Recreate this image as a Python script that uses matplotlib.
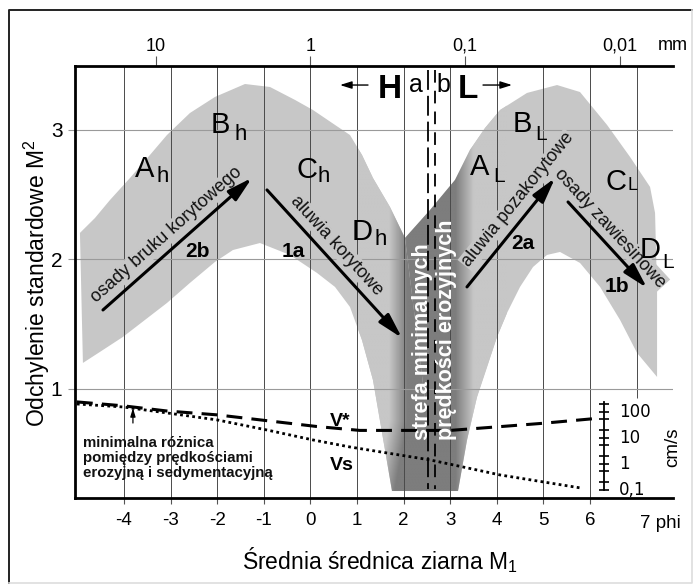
import numpy as np
import matplotlib
matplotlib.use('Agg')
import matplotlib.pyplot as plt
import matplotlib.transforms as mtransforms
from matplotlib.patches import Polygon
from matplotlib.lines import Line2D
from matplotlib.ticker import NullLocator

plt.rcParams['font.family'] = ['Liberation Sans', 'DejaVu Sans']
plt.rcParams['mathtext.fontset'] = 'custom'
plt.rcParams['mathtext.rm'] = 'Liberation Sans'
plt.rcParams['mathtext.it'] = 'Liberation Sans:italic'
plt.rcParams['mathtext.bf'] = 'Liberation Sans:bold'

# --- data -------------------------------------------------------------
phi_ticks = [-4, -3, -2, -1, 0, 1, 2, 3, 4, 5, 6]
phi_grid = [-4, -3, -2, -1, 0, 1, 2, 3, 4, 5, 6]
m2_ticks = [1, 2, 3]
mm_sizes = [10, 1, 0.1, 0.01]
mm_labels = ['10', '1', '0,1', '0,01']

# envelope of the coarse (H) field
h_phi = [-4.944, -4.622, -4.300, -3.871, -3.442, -3.077, -2.584, -2.047, -1.403, -0.867,
         -0.330, 0.056, 0.528, 0.850, 1.107, 1.343, 1.708, 2.030, 2.459, 2.459,
         1.751, 1.601, 1.343, 1.107, 0.850, 0.528, 0.142, -0.438, -1.082, -1.661,
         -2.047, -2.584, -3.077, -3.549, -4.021, -4.515, -4.880]
h_m2 = [2.205, 2.320, 2.459, 2.629, 2.807, 2.961, 3.131, 3.255, 3.355, 3.332,
        3.232, 3.154, 3.039, 2.961, 2.807, 2.629, 2.405, 2.166, 0.915, 0.212,
        0.212, 0.529, 1.069, 1.378, 1.633, 1.788, 1.896, 2.035, 2.127, 2.073,
        1.981, 1.819, 1.664, 1.533, 1.402, 1.286, 1.201]

# envelope of the fine (L) field
l_phi = [2.030, 2.567, 3.103, 3.425, 3.747, 4.069, 4.648, 5.292, 5.785, 6.365,
         6.858, 7.288, 7.395, 7.438, 7.438, 7.009, 6.644, 6.215, 5.785, 5.356,
         5.077, 4.777, 4.498, 4.219, 4.004, 3.790, 3.575, 3.361, 3.167, 2.459, 2.459]
l_m2 = [2.166, 2.382, 2.614, 2.846, 3.015, 3.154, 3.286, 3.347, 3.293, 3.039,
        2.792, 2.560, 2.359, 1.764, 1.093, 1.278, 1.533, 1.788, 1.973, 2.058,
        2.035, 1.942, 1.788, 1.587, 1.402, 1.170, 0.938, 0.606, 0.212, 0.212, 0.915]

# zone of minimal erosion velocities
zone_left, zone_right = 2.073, 3.103
zone_left_bottom = 1.80
split_a, split_b = 2.524, 2.674

# velocity curves
vstar_phi = [-5.01, -4.02, -3.08, -2.0, -0.93, 0.14, 1.06, 3.0, 3.92, 4.99, 6.06]
vstar_m2 = [0.90, 0.87, 0.83, 0.80, 0.755, 0.71, 0.68, 0.68, 0.705, 0.735, 0.77]
vs_phi = [-5.01, -4.02, -3.08, -2.0, -0.93, 0.06, 0.85, 2.57, 4.07, 5.79]
vs_m2 = [0.884, 0.861, 0.815, 0.761, 0.683, 0.606, 0.552, 0.452, 0.336, 0.236]
vel_ticks = [0.1, 0.2, 0.5, 1, 2, 5, 10, 20, 50, 100, 200]
vel_labels = {100: '100', 10: '10', 1: '1', 0.1: '0,1'}

# trend arrows: (tail, tip, caption, caption centre, number, number position)
trends = [
    ((-4.45, 1.61), (-1.253, 2.63), 'osady bruku korytowego', (-3.077, 2.189), '2b', (-2.412, 2.058)),
    ((-0.931, 2.537), (1.966, 1.394), 'aluwia korytowe', (0.571, 2.104), '1a', (-0.373, 2.058)),
    ((3.36, 1.788), (5.249, 2.629), 'aluwia pozakorytowe', (4.455, 2.459), '2a', (4.562, 2.127)),
    ((5.528, 2.444), (7.223, 1.78), 'osady zawiesinowe', (6.43, 2.243), '1b', (6.58, 1.788)),
]

# sub-field letters: (letter, x, baseline, index, x, baseline, index size)
fields = [
    ('A', -3.764, 2.637, 'h', -3.292, 2.598, 16),
    ('B', -2.133, 2.977, 'h', -1.618, 2.923, 16),
    ('C', -0.288, 2.629, 'h', 0.163, 2.598, 16),
    ('D', 0.893, 2.151, 'h', 1.386, 2.112, 16),
    ('A', 3.425, 2.653, 'L', 3.918, 2.598, 15),
    ('B', 4.348, 2.985, 'L', 4.820, 2.923, 15),
    ('C', 6.322, 2.537, 'L', 6.794, 2.537, 13),
    ('D', 7.073, 2.012, 'L', 7.545, 1.934, 15),
]

LIGHT = 0.78
DARK = 0.49

fig = plt.figure(figsize=(6.96, 5.86), dpi=100)
ax = fig.add_axes([75 / 696, 1 - 498 / 586, 598 / 696, 432 / 586])
ax.set_xlim(-5.05, 7.78)
ax.set_ylim(0.158, 3.494)

# frame around the whole figure
fig.add_artist(Line2D([9 / 696, 9 / 696, 692 / 696], [1 - 583 / 586, 1 - 10 / 586, 1 - 10 / 586],
                      transform=fig.transFigure, color='#222222', lw=1.4))
fig.add_artist(Line2D([9 / 696, 692 / 696, 692 / 696], [1 - 583 / 586, 1 - 583 / 586, 1 - 10 / 586],
                      transform=fig.transFigure, color='#dddddd', lw=1.2))

# grey fields
grey = str(LIGHT)
lobes = []
for px, py in [(h_phi, h_m2), (l_phi, l_m2)]:
    p = Polygon(np.column_stack([px, py]), closed=True, fc=grey, ec='none', zorder=1)
    ax.add_patch(p)
    lobes.append(p)

# darker zone with soft edges, painted inside both fields
gx = np.linspace(1.0, 4.2, 500)
gy = np.linspace(0.15, 3.5, 400)
X, Y = np.meshgrid(gx, gy)
left_edge = np.interp(Y, [0.2, 0.75], [zone_left_bottom, zone_left])
ramp = 0.39
t = np.ones_like(X)
t = np.where(X < left_edge, np.clip(1 - (left_edge - X) / ramp, 0, 1), t)
t = np.where(X > zone_right, np.clip(1 - (X - zone_right) / ramp, 0, 1), t)
shade = LIGHT - t * (LIGHT - DARK)
for p in lobes:
    im = ax.imshow(shade, extent=(gx[0], gx[-1], gy[0], gy[-1]), origin='lower',
                   cmap='gray', vmin=0, vmax=1, aspect='auto', zorder=1.5,
                   interpolation='bilinear')
    im.set_clip_path(p)

# grid
ax.vlines(phi_grid, 0.158, 3.494, color='#4a4a4a', lw=0.7, zorder=2)
ax.vlines([7], 0.93, 3.494, color='#4a4a4a', lw=0.7, zorder=2)
ax.hlines(m2_ticks, -5.05, 7.78, color='#9a9a9a', lw=0.8, zorder=2)

# border between H and L
ax.plot([split_a, split_a], [3.463, 0.23], color='k', lw=1.3,
        linestyle=(0, (11, 3.3)), zorder=3)
ax.plot([split_b, split_b], [3.463, 0.23], color='k', lw=1.3,
        linestyle=(0, (7, 4.5)), zorder=3)

# axes styling
for s in ['left', 'bottom', 'top']:
    ax.spines[s].set_linewidth(2.0)
ax.spines['right'].set_visible(False)
ax.set_xticks(phi_ticks)
ax.set_xticklabels([str(v) for v in phi_ticks])
ax.set_yticks(m2_ticks)
ax.set_yticklabels([str(v) for v in m2_ticks])
ax.tick_params(axis='x', direction='out', length=4, width=0.8, color='#555555',
               labelsize=13.5, pad=6)
ax.tick_params(axis='y', direction='out', length=5, width=0.8, color='#999999',
               labelsize=15, pad=4)

top = ax.secondary_xaxis('top', functions=(lambda v: v, lambda v: v))
top.set_xticks(-np.log2(mm_sizes))
top.set_xticklabels(mm_labels)
top.tick_params(direction='out', length=7, width=0.8, color='#555555',
                labelsize=13, pad=1)
for s in top.spines.values():
    s.set_visible(False)

bx = mtransforms.blended_transform_factory(ax.transData, ax.transAxes)
ax.text(7.07, -25 / 432, '7 phi', transform=bx, ha='left', va='center',
        fontsize=13.5)
ax.text(7.78, 1 + 20 / 432, 'mm', transform=bx, ha='center', va='center',
        fontsize=13)

fig.text(380 / 696, 1 - 560 / 586, r'Średnia średnica ziarna M$_\mathrm{1}$',
         ha='center', va='center', fontsize=16.5)
fig.text(37 / 696, 1 - 283 / 586, r'Odchylenie standardowe M$^\mathrm{2}$',
         ha='center', va='center', rotation=90, fontsize=16.5)


def screen_angle(p0, p1):
    (x0, y0), (x1, y1) = ax.transData.transform([p0, p1])
    return np.degrees(np.arctan2(y1 - y0, x1 - x0))


# trend arrows with captions (captions knock the grid out underneath)
for tail, tip, caption, cpos, num, npos in trends:
    ax.annotate('', xy=tip, xytext=tail, zorder=5,
                arrowprops=dict(arrowstyle='-|>,head_length=1.5,head_width=0.4',
                                lw=2.2, color='k', shrinkA=0, shrinkB=0))
    ang = screen_angle(tail, tip)
    if ang < -90 or ang > 90:
        ang += 180
    ax.text(cpos[0], cpos[1], caption, rotation=ang, rotation_mode='anchor',
            ha='center', va='center', fontsize=13, color='#111111', zorder=4,
            bbox=dict(boxstyle='square,pad=0.05', fc=grey, ec='none'))
    ax.text(npos[0], npos[1], num, ha='center', va='center', fontsize=15,
            fontweight='bold', zorder=4)

for big, bx0, by0, small, sx0, sy0, ssize in fields:
    ax.text(bx0, by0, big, ha='left', va='baseline', fontsize=21, zorder=4)
    ax.text(sx0, sy0, small, ha='left', va='baseline', fontsize=ssize, zorder=4)

# zone caption
ax.text(2.395, 0.606, 'strefa minimalnych', rotation=90, ha='center', va='bottom',
        fontsize=15.5, fontweight='bold', color='white', zorder=4)
ax.text(2.931, 0.606, 'prędkości erozyjnych', rotation=90, ha='center', va='bottom',
        fontsize=15.5, fontweight='bold', color='white', zorder=4)

# H / L header
ax.annotate('', xy=(0.635, 3.347), xytext=(1.236, 3.347),
            arrowprops=dict(arrowstyle='-|>,head_length=0.7,head_width=0.22',
                            lw=1.0, color='k', shrinkA=0, shrinkB=0))
ax.annotate('', xy=(4.326, 3.347), xytext=(3.704, 3.347),
            arrowprops=dict(arrowstyle='-|>,head_length=0.7,head_width=0.22',
                            lw=1.0, color='k', shrinkA=0, shrinkB=0))
ax.text(1.451, 3.247, 'H', ha='left', va='baseline', fontsize=24, fontweight='bold')
ax.text(3.167, 3.247, 'L', ha='left', va='baseline', fontsize=24, fontweight='bold')
ax.text(2.266, 3.293, 'a', ha='center', va='baseline', fontsize=18)
ax.text(2.845, 3.293, 'b', ha='center', va='baseline', fontsize=18)

# velocity curves
ax.plot(vstar_phi, vstar_m2, color='k', lw=2.2, linestyle=(0, (5.2, 3)),
        zorder=3, solid_capstyle='butt')
ax.plot(vs_phi, vs_m2, color='k', lw=2.0, linestyle=(0, (1, 1.2)), zorder=3)
ax.text(0.421, 0.714, 'V*', ha='left', va='baseline', fontsize=14, fontweight='bold')
ax.text(0.421, 0.375, 'Vs', ha='left', va='baseline', fontsize=14, fontweight='bold')

ax.annotate('', xy=(-3.807, 0.853), xytext=(-3.807, 0.737),
            arrowprops=dict(arrowstyle='-|>,head_length=0.5,head_width=0.15',
                            lw=0.9, color='k', shrinkA=0, shrinkB=0))
note = ['minimalna różnica', 'pomiędzy prędkościami', 'erozyjną i sedymentacyjną']
for line, yb in zip(note, [0.552, 0.436, 0.320]):
    ax.text(-4.88, yb, line, ha='left', va='baseline', fontsize=10.8,
            fontweight='bold', color='#111111')

# velocity scale (cm/s)
axv = fig.add_axes([604 / 696, 1 - 490 / 586, 0.0001, 88 / 586])
axv.set_yscale('log')
axv.set_ylim(0.0957, 232)
axv.patch.set_visible(False)
for s in ['top', 'bottom', 'right']:
    axv.spines[s].set_visible(False)
axv.spines['left'].set_linewidth(1.3)
axv.set_xticks([])
axv.set_yticks(vel_ticks)
axv.yaxis.set_minor_locator(NullLocator())
axv.tick_params(axis='y', direction='inout', length=7, width=1.2, labelleft=False)
vtr = mtransforms.blended_transform_factory(fig.transFigure, axv.transData)
for v, lab in vel_labels.items():
    axv.text(619 / 696, v, lab, transform=vtr, ha='left', va='center',
             fontsize=12, family='DejaVu Sans')
fig.text(673 / 696, 1 - 447 / 586, 'cm/s', rotation=90, ha='center', va='center',
         fontsize=13.5)

fig.savefig('out.png', dpi=100)
